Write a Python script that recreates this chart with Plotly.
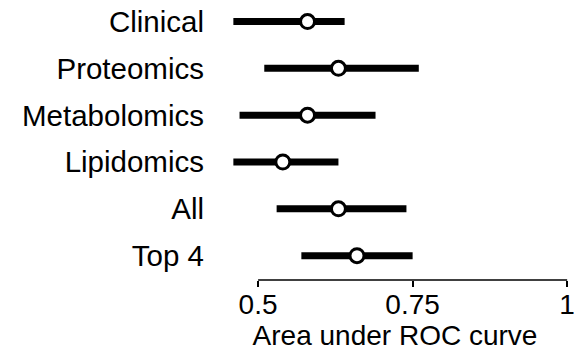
import plotly.graph_objects as go

# AUC estimates with confidence interval bounds per feature set
categories = ["Clinical", "Proteomics", "Metabolomics", "Lipidomics", "All", "Top 4"]
auc = [0.58, 0.63, 0.58, 0.54, 0.63, 0.66]
ci_low = [0.46, 0.51, 0.47, 0.46, 0.53, 0.57]
ci_high = [0.64, 0.76, 0.69, 0.63, 0.74, 0.75]
x_ticks = [0.5, 0.75, 1]
x_tick_text = ["0.5", "0.75", "1"]

err_plus = [h - a for h, a in zip(ci_high, auc)]
err_minus = [a - l for a, l in zip(auc, ci_low)]

FONT = "Liberation Sans, Arial, sans-serif"

fig = go.Figure(
    go.Scatter(
        x=auc,
        y=categories,
        mode="markers",
        marker=dict(symbol="circle", size=14, color="white",
                    line=dict(color="black", width=3)),
        error_x=dict(type="data", symmetric=False, array=err_plus,
                     arrayminus=err_minus, color="black", thickness=7, width=0),
        showlegend=False,
        cliponaxis=False,
    )
)

# axis line spans only the labelled range
fig.add_shape(type="line", xref="x", yref="paper", x0=x_ticks[0], x1=x_ticks[-1],
              y0=0, y1=0, line=dict(color="black", width=1.5))

fig.update_layout(
    width=574,
    height=351,
    margin=dict(l=221, r=5, t=0, b=71),
    plot_bgcolor="white",
    paper_bgcolor="white",
    font=dict(family=FONT, size=28, color="black"),
    xaxis=dict(
        range=[0.44, 1.003],
        tickvals=x_ticks,
        ticktext=x_tick_text,
        ticks="outside",
        ticklen=6,
        tickwidth=1.5,
        tickcolor="black",
        showgrid=False,
        zeroline=False,
        showline=False,
        tickfont=dict(size=28),
        ticklabelstandoff=-7,
        ticklabeloverflow="allow",
        title=dict(text="Area under ROC curve", font=dict(size=28), standoff=5),
    ),
    yaxis=dict(
        type="category",
        categoryorder="array",
        categoryarray=categories,
        range=[5.52, -0.46],
        showgrid=False,
        zeroline=False,
        showline=False,
        ticks="",
        ticklabelstandoff=16,
        tickfont=dict(size=29.5),
    ),
)

fig.write_html("out.html")
